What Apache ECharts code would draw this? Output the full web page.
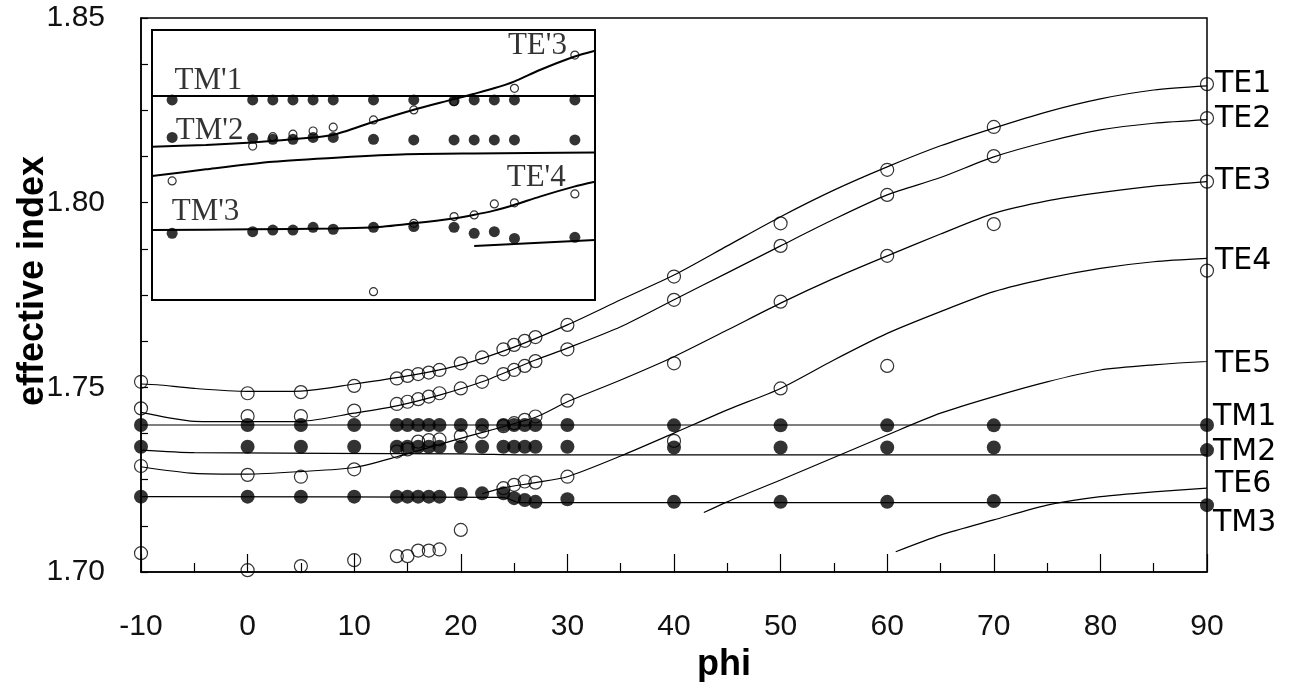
<!DOCTYPE html>
<html>
<head>
<meta charset="utf-8">
<script src="https://cdn.jsdelivr.net/npm/echarts@6/dist/echarts.min.js"></script>
<style>
html, body { margin: 0; background: #fff; }
#chart { width: 1294px; height: 682px; }
</style>
</head>
<body>
<div id="chart"></div>
<script>
// ---- main plot: measured points (phi, effective index)
var phiTM = [-10, 0, 5, 10, 14, 15, 16, 17, 18, 20, 22, 24, 25, 26, 27, 30, 40, 50, 60, 70, 90];
var tm1Dots = [1.7398, 1.7398, 1.7398, 1.7398, 1.7398, 1.7398, 1.7398, 1.7398, 1.7398, 1.7398, 1.7398,
               1.7398, 1.7398, 1.7398, 1.7398, 1.7398, 1.7397, 1.7397, 1.7397, 1.7397, 1.7398];
var tm2Dots = [1.7339, 1.7339, 1.7339, 1.7339, 1.7339, 1.7339, 1.7339, 1.7339, 1.7339, 1.7339, 1.7339,
               1.7339, 1.7339, 1.7339, 1.7339, 1.7339, 1.7337, 1.7337, 1.7337, 1.7337, 1.7330];
var tm3Dots = [1.7204, 1.7204, 1.7204, 1.7204, 1.7204, 1.7204, 1.7204, 1.7204, 1.7204, 1.7211, 1.7213,
               1.7213, 1.7200, 1.7195, 1.7190, 1.7197, 1.7190, 1.7190, 1.7190, 1.7192, 1.7181];

var te1Pts = [[-10, 1.7515], [0, 1.7484], [5, 1.7487], [10, 1.7504], [14, 1.7524], [15, 1.7531], [16, 1.7536],
              [17, 1.7540], [18, 1.7547], [20, 1.7565], [22, 1.7581], [24, 1.7603], [25, 1.7615], [26, 1.7626],
              [27, 1.7636], [30, 1.7669], [40, 1.7800], [50, 1.7944], [60, 1.8089], [70, 1.8205], [90, 1.8321]];
var te2Pts = [[-10, 1.7443], [0, 1.7422], [5, 1.7422], [10, 1.7437], [14, 1.7455], [15, 1.7461], [16, 1.7468],
              [17, 1.7475], [18, 1.7484], [20, 1.7497], [22, 1.7515], [24, 1.7536], [25, 1.7547], [26, 1.7558],
              [27, 1.7571], [30, 1.7603], [40, 1.7737], [50, 1.7883], [60, 1.8021], [70, 1.8126], [90, 1.8229]];
var te3Pts = [[-10, 1.7287], [0, 1.7263], [5, 1.7258], [10, 1.7278], [14, 1.7326], [15, 1.7332], [16, 1.7353],
              [17, 1.7357], [18, 1.7359], [20, 1.7368], [22, 1.7380], [24, 1.7395], [25, 1.7403], [26, 1.7412],
              [27, 1.7421], [30, 1.7464], [40, 1.7565], [50, 1.7732], [60, 1.7856], [70, 1.7942], [90, 1.8057]];
var te4Pts = [[-10, 1.7051], [0, 1.7005], [5, 1.7016], [10, 1.7032], [14, 1.7043], [15, 1.7043], [16, 1.7058],
              [17, 1.7058], [18, 1.7061], [20, 1.7114], [24, 1.7227], [25, 1.7236], [26, 1.7245], [27, 1.7242],
              [30, 1.7258], [40, 1.7355], [50, 1.7497], [60, 1.7558], [90, 1.7816]];

// ---- main plot: computed curves
var te1Line = [[-10, 1.7509], [-8.5, 1.7507], [-5, 1.7497], [0, 1.7489], [5, 1.7490], [10, 1.7509], [15, 1.7531],
               [20, 1.7561], [25, 1.7609], [30, 1.7669], [35, 1.7737], [40, 1.7804], [45, 1.7883], [50, 1.7962],
               [55, 1.8034], [60, 1.8097], [65, 1.8154], [70, 1.8202], [75, 1.8246], [80, 1.8281], [85, 1.8305],
               [90, 1.8316]];
var te2Line = [[-10, 1.7432], [-7.5, 1.7418], [-5, 1.7408], [0, 1.7407], [5, 1.7408], [10, 1.7430], [14, 1.7450],
               [18, 1.7479], [22, 1.7515], [27, 1.7574], [30, 1.7606], [35, 1.7664], [40, 1.7737], [45, 1.7810],
               [50, 1.7883], [55, 1.7955], [60, 1.8021], [65, 1.8068], [70, 1.8124], [75, 1.8165], [80, 1.8197],
               [85, 1.8215], [90, 1.8225]];
var te3Line = [[-10, 1.7285], [-5, 1.7267], [0, 1.7265], [5, 1.7272], [10, 1.7283], [14, 1.7312], [20, 1.7362],
               [27, 1.7419], [30, 1.7461], [35, 1.7520], [40, 1.7583], [45, 1.7655], [50, 1.7728], [55, 1.7795],
               [60, 1.7856], [65, 1.7915], [70, 1.7971], [75, 1.8005], [80, 1.8027], [85, 1.8045], [90, 1.8057]];
var te4Line = [[22, 1.7212], [24, 1.7228], [27, 1.7242], [30, 1.7258], [35, 1.7314], [40, 1.7376], [45, 1.7439],
               [50, 1.7497], [55, 1.7574], [60, 1.7646], [65, 1.7705], [70, 1.7759], [75, 1.7795], [80, 1.7822],
               [85, 1.7840], [90, 1.7849]];
var te5Line = [[42.8, 1.7161], [45, 1.7190], [50, 1.7249], [55, 1.7310], [60, 1.7371], [65, 1.7430], [70, 1.7475],
               [75, 1.7515], [80, 1.7547], [85, 1.7561], [90, 1.7570]];
var te6Line = [[60.8, 1.7055], [65, 1.7100], [70, 1.7141], [75, 1.7181], [80, 1.7204], [85, 1.7217], [90, 1.7227]];
var tm1Line = [[-10, 1.7398], [90, 1.7398]];
var tm2Line = [[-10, 1.7330], [-5, 1.7323], [20, 1.7320], [27, 1.7317], [90, 1.7317]];
var tm3Line = [[-10, 1.7204], [24, 1.7202], [25.5, 1.7188], [90, 1.7188]];

var xTicks = [-10, 0, 10, 20, 30, 40, 50, 60, 70, 80, 90];
var yTicks = [1.70, 1.75, 1.80, 1.85];

// ---- inset (arbitrary units)
var insetX = [-20, 0, 5, 10, 15, 20, 30, 40, 50, 55, 60, 65, 80];
var insTM1Dots = [74.1, 74.1, 74.1, 74.1, 74.1, 74.1, 74.1, 74.1, 73.8, 74.1, 74.1, 74.1, 74.1];
var insTM2Dots = [60.2, 59.9, 59.5, 59.5, 60.2, 60.2, 59.5, 59.3, 59.3, 59.3, 59.3, 59.3, 59.3];
var insTM3Dots = [24.7, 25.3, 25.9, 25.9, 26.9, 26.2, 26.9, 27.2, 26.9, 24.7, 25.3, 22.8, 23.2];
var insOpen = [[-20, 44.1], [0, 57.0], [5, 60.5], [10, 61.4], [15, 62.6], [20, 64.0], [30, 66.7], [40, 70.4],
               [50, 73.5], [65, 78.4], [80, 90.7], [30, 3.1], [40, 28.4], [50, 30.9], [55, 31.5], [60, 35.6],
               [65, 36.0], [80, 39.3]];
var insTM1Line = [[-25, 75.6], [85, 75.6]];
var insTE3Line = [[-25, 56.8], [-11.6, 57.4], [-0.1, 58.3], [9.8, 59.5], [19.8, 61.1], [30, 66.0], [39.8, 70.4],
                  [49.8, 74.3], [54.8, 76.3], [59.9, 78.4], [64.9, 80.9], [71.3, 85.2], [79.8, 90.1], [85, 92.3]];
var insMidLine = [[-25, 45.9], [-11.6, 48.4], [5, 51.2], [21.6, 52.8], [38.2, 54.0], [54.8, 54.3], [85, 54.6]];
var insTE4Line = [[-25, 25.9], [-0.1, 26.2], [19.8, 26.5], [30, 26.9], [39.8, 28.4], [49.8, 30.2], [54.8, 31.5],
                  [59.9, 33.1], [64.9, 35.2], [71.3, 38.3], [79.8, 42.0], [85, 43.8]];
var insShortLine = [[55, 20.0], [85, 22.2]];
var insLabels = [["TM'1", -11.0, 81.0], ["TM'2", -10.7, 62.8], ["TE'3", 70.7, 94.1],
                 ["TE'4", 70.4, 45.1], ["TM'3", -11.7, 32.5]];

function pairs(xs, ys) {
    var out = [];
    for (var i = 0; i < xs.length; i++) out.push([xs[i], ys[i]]);
    return out;
}

var LINE = { color: '#000', width: 1.2 };
var SANS = 'Liberation Sans';

function curve(name, data, off) {
    return {
        name: name, type: 'line', data: data, showSymbol: false, smooth: 0.25,
        lineStyle: LINE, z: 3, silent: true,
        endLabel: { show: true, formatter: '{a}', offset: off, distance: 8,
                    color: '#000', fontFamily: 'DejaVu Sans', fontSize: 30 }
    };
}
function openPts(data, size, xi) {
    return { type: 'scatter', data: data, symbol: 'circle', symbolSize: size, xAxisIndex: xi, yAxisIndex: xi,
             itemStyle: { color: 'rgba(0,0,0,0)', borderColor: '#000', borderWidth: 1.2 }, z: xi ? 6 : 4 };
}
function dots(data, size, xi) {
    return { type: 'scatter', data: data, symbol: 'circle', symbolSize: size, xAxisIndex: xi, yAxisIndex: xi,
             itemStyle: { color: '#000' }, z: xi ? 6 : 4 };
}
function insetLine(data) {
    return { type: 'line', data: data, showSymbol: false, smooth: 0.25, xAxisIndex: 1, yAxisIndex: 1,
             lineStyle: { color: '#000', width: 2 }, z: 5, silent: true };
}

var chart = echarts.init(document.getElementById('chart'));
var option = {
    animation: false,
    backgroundColor: '#fff',
    grid: [
        { left: 141, right: 87, top: 18, bottom: 110, show: true, borderColor: '#000', borderWidth: 1.5,
          backgroundColor: '#fff', outerBoundsMode: 'none', containLabel: false },
        { left: 152, top: 30, width: 443, height: 270, show: true, borderColor: '#000', borderWidth: 2,
          backgroundColor: '#fff', z: 3, outerBoundsMode: 'none', containLabel: false }
    ],
    xAxis: [
        {
            type: 'value', min: xTicks[0], max: xTicks[xTicks.length - 1], interval: 10,
            name: 'phi', nameLocation: 'middle', nameGap: 57,
            nameTextStyle: { fontFamily: SANS, fontWeight: 'bold', fontSize: 36, color: '#000', padding: [0, 0, 0, 100] },
            axisLine: { onZero: false, lineStyle: { color: '#000', width: 1.5 } },
            axisTick: { inside: true, length: 18, lineStyle: { color: '#000', width: 1.2 } },
            minorTick: { show: true, splitNumber: 2, length: 9, lineStyle: { color: '#000', width: 1.2 } },
            axisLabel: { margin: 40, fontFamily: SANS, fontSize: 30, color: '#111' },
            splitLine: { show: false }
        },
        { gridIndex: 1, type: 'value', min: -25, max: 85, show: false }
    ],
    yAxis: [
        {
            type: 'value', min: yTicks[0], max: yTicks[yTicks.length - 1], interval: 0.05,
            name: 'effective index', nameLocation: 'middle', nameGap: 90, nameMoveOverlap: false,
            nameTextStyle: { fontFamily: SANS, fontWeight: 'bold', fontSize: 36, color: '#000', padding: [0, 0, 0, 28] },
            axisLine: { onZero: false, lineStyle: { color: '#000', width: 1.5 } },
            axisTick: { inside: true, length: 7, lineStyle: { color: '#000', width: 1.2 } },
            minorTick: { show: true, splitNumber: 4, length: 7, lineStyle: { color: '#000', width: 1.2 } },
            axisLabel: { margin: 36, fontFamily: SANS, fontSize: 30, color: '#111',
                         formatter: function (v) { return v.toFixed(2); } },
            splitLine: { show: false }
        },
        { gridIndex: 1, type: 'value', min: 0, max: 100, show: false }
    ],
    series: [
        curve('TE1', te1Line, [0, -2]),
        curve('TE2', te2Line, [0, 0]),
        curve('TE3', te3Line, [0, 0]),
        curve('TE4', te4Line, [0, 3]),
        curve('TE5', te5Line, [0, 3]),
        curve('TM1', tm1Line, [-2, -8]),
        curve('TM2', tm2Line, [-2, -3]),
        curve('TE6', te6Line, [0, -4]),
        curve('TM3', tm3Line, [-2, 21]),
        openPts(te1Pts, 13, 0),
        openPts(te2Pts, 13, 0),
        openPts(te3Pts, 13, 0),
        openPts(te4Pts, 13, 0),
        dots(pairs(phiTM, tm1Dots), 14, 0),
        dots(pairs(phiTM, tm2Dots), 14, 0),
        dots(pairs(phiTM, tm3Dots), 14, 0),
        insetLine(insTM1Line),
        insetLine(insTE3Line),
        insetLine(insMidLine),
        insetLine(insTE4Line),
        insetLine(insShortLine),
        dots(pairs(insetX, insTM1Dots), 11, 1),
        dots(pairs(insetX, insTM2Dots), 11, 1),
        dots(pairs(insetX, insTM3Dots), 11, 1),
        openPts(insOpen, 8, 1),
        {
            type: 'scatter', xAxisIndex: 1, yAxisIndex: 1, symbolSize: 1, z: 7, silent: true,
            itemStyle: { color: 'rgba(0,0,0,0)' },
            data: insLabels.map(function (d) { return { name: d[0], value: [d[1], d[2]] }; }),
            label: { show: true, position: 'inside', formatter: '{b}', color: '#000',
                     fontFamily: 'Liberation Serif', fontSize: 31 }
        }
    ]
};
chart.setOption(option);
</script>
</body>
</html>
